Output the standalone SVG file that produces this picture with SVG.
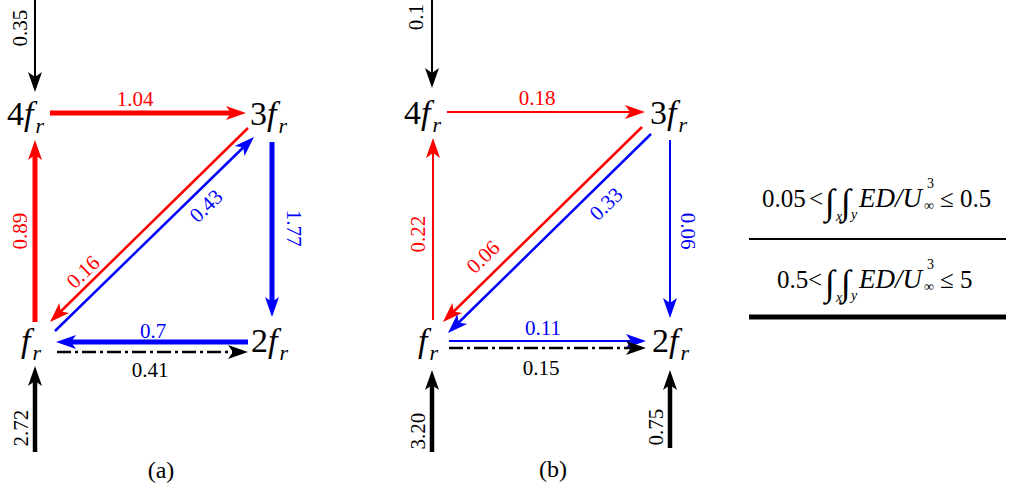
<svg xmlns="http://www.w3.org/2000/svg" width="1017" height="490" viewBox="0 0 1017 490" font-family="'Liberation Serif','Times New Roman',serif">
<style>
text{font-family:"Liberation Serif","Times New Roman",serif}
.n{font-family:"Liberation Serif","Times New Roman",serif;font-size:34px;fill:#000}
.i{font-style:italic}
.s{font-size:22px;font-style:italic}
.e{font-family:"Liberation Serif","Times New Roman",serif;font-size:21px;text-anchor:middle}
.cr{fill:#f00}.cb{fill:#00f}.ck{fill:#000}
.sr{stroke:#f00;fill:none}.sb{stroke:#00f;fill:none}.sk{stroke:#000;fill:none}
.w5{stroke-width:5}.w4{stroke-width:4.5}.w2{stroke-width:2}.w25{stroke-width:2.5}
.dd{stroke-dasharray:14 4 3 4}
.leg{font-family:"Liberation Serif","Times New Roman",serif;font-size:25px}
.int{font-size:36px}
.sub{font-size:14px;font-style:italic}
.sm{font-size:14px}
</style>
<defs>
<marker id="mr" markerUnits="userSpaceOnUse" markerWidth="20" markerHeight="14" refX="10" refY="7" orient="auto" overflow="visible"><path d="M0,0 L20,7 L0,14 L5,7 Z" fill="#f00"/></marker>
<marker id="mb" markerUnits="userSpaceOnUse" markerWidth="20" markerHeight="14" refX="10" refY="7" orient="auto" overflow="visible"><path d="M0,0 L20,7 L0,14 L5,7 Z" fill="#00f"/></marker>
<marker id="mk" markerUnits="userSpaceOnUse" markerWidth="20" markerHeight="14" refX="10" refY="7" orient="auto" overflow="visible"><path d="M0,0 L20,7 L0,14 L5,7 Z" fill="#000"/></marker>
</defs>
<rect width="1017" height="490" fill="#fff"/>

<g id="connectors">
<line class="sk w2" x1="35" y1="0" x2="35" y2="82" marker-end="url(#mk)"/>
<line class="sr w5" x1="50" y1="113" x2="236" y2="113" marker-end="url(#mr)"/>
<line class="sr w5" x1="35" y1="322" x2="35" y2="150" marker-end="url(#mr)"/>
<line class="sr w25" x1="248" y1="128" x2="57.1" y2="315" marker-end="url(#mr)"/>
<line class="sb w25" x1="55" y1="331" x2="246.8" y2="144" marker-end="url(#mb)"/>
<line class="sb w5" x1="272" y1="142" x2="272" y2="307" marker-end="url(#mb)"/>
<line class="sb w5" x1="248" y1="342" x2="66" y2="342" marker-end="url(#mb)"/>
<line class="sk w25 dd" x1="57" y1="352" x2="238" y2="352" marker-end="url(#mk)"/>
<line class="sk w4" x1="35" y1="452" x2="35" y2="376" marker-end="url(#mk)"/>
<line class="sk w2" x1="432" y1="0" x2="432" y2="78" marker-end="url(#mk)"/>
<line class="sr w2" x1="447" y1="112" x2="635" y2="112" marker-end="url(#mr)"/>
<line class="sr w2" x1="433" y1="320" x2="433" y2="148" marker-end="url(#mr)"/>
<line class="sr w25" x1="642" y1="127" x2="450.1" y2="315" marker-end="url(#mr)"/>
<line class="sb w25" x1="651" y1="134" x2="455.1" y2="326" marker-end="url(#mb)"/>
<line class="sb w2" x1="670" y1="140" x2="670" y2="308" marker-end="url(#mb)"/>
<line class="sb w2" x1="449" y1="341" x2="636" y2="341" marker-end="url(#mb)"/>
<line class="sk w25 dd" x1="449" y1="348" x2="636" y2="348" marker-end="url(#mk)"/>
<line class="sk w4" x1="432" y1="452" x2="432" y2="380" marker-end="url(#mk)"/>
<line class="sk w4" x1="670" y1="448" x2="670" y2="380" marker-end="url(#mk)"/>
</g>

<g id="edge-labels">
<text class="e ck" transform="translate(27,28) rotate(-90)">0.35</text>
<text class="e cr" x="135" y="106">1.04</text>
<text class="e cr" transform="translate(27,231) rotate(-90)">0.89</text>
<text class="e cr" transform="translate(83,272) rotate(-44)" y="7">0.16</text>
<text class="e cb" transform="translate(206,206) rotate(-44)" y="7">0.43</text>
<text class="e cb" transform="translate(287,228) rotate(90)">1.77</text>
<text class="e cb" x="153" y="338">0.7</text>
<text class="e ck" x="150" y="377">0.41</text>
<text class="e ck" transform="translate(28,428) rotate(-90)">2.72</text>
<text class="e ck" transform="translate(423,17) rotate(-90)">0.1</text>
<text class="e cr" x="537" y="105">0.18</text>
<text class="e cr" transform="translate(425,234) rotate(-90)">0.22</text>
<text class="e cr" transform="translate(483,257) rotate(-44)" y="7">0.06</text>
<text class="e cb" transform="translate(606,204) rotate(-44)" y="7">0.33</text>
<text class="e cb" transform="translate(681,231) rotate(90)">0.06</text>
<text class="e cb" x="543" y="335">0.11</text>
<text class="e ck" x="541" y="375">0.15</text>
<text class="e ck" transform="translate(425,431) rotate(-90)">3.20</text>
<text class="e ck" transform="translate(663,427) rotate(-90)">0.75</text>
</g>

<g id="a-4fr"><text class="n" x="7" y="125">4<tspan class="i">f</tspan><tspan class="s" dx="2" dy="8">r</tspan></text></g>
<g id="a-3fr"><text class="n" x="250" y="125">3<tspan class="i">f</tspan><tspan class="s" dx="2" dy="8">r</tspan></text></g>
<g id="a-fr"><text class="n" x="21" y="352"><tspan class="i">f</tspan><tspan class="s" dx="2" dy="8">r</tspan></text></g>
<g id="a-2fr"><text class="n" x="251" y="352">2<tspan class="i">f</tspan><tspan class="s" dx="2" dy="8">r</tspan></text></g>
<g id="b-4fr"><text class="n" x="404" y="124">4<tspan class="i">f</tspan><tspan class="s" dx="2" dy="8">r</tspan></text></g>
<g id="b-3fr"><text class="n" x="650" y="124">3<tspan class="i">f</tspan><tspan class="s" dx="2" dy="8">r</tspan></text></g>
<g id="b-fr"><text class="n" x="418" y="352"><tspan class="i">f</tspan><tspan class="s" dx="2" dy="8">r</tspan></text></g>
<g id="b-2fr"><text class="n" x="652" y="352">2<tspan class="i">f</tspan><tspan class="s" dx="2" dy="8">r</tspan></text></g>

<g id="captions">
<text x="161" y="478" font-size="24" text-anchor="middle">(a)</text>
<text x="553" y="477" font-size="24" text-anchor="middle">(b)</text>
</g>

<g id="legend">
<text class="leg" y="207"><tspan x="762">0.05</tspan><tspan x="809">&lt;</tspan><tspan class="int" x="825" y="214">∫</tspan><tspan class="sub" x="836" y="221">x</tspan><tspan class="int" x="841" y="214">∫</tspan><tspan class="sub" x="851" y="219">y</tspan><tspan class="i" x="859" y="207" font-size="27">ED/U</tspan><tspan class="sm" x="924" y="210">∞</tspan><tspan class="sm" x="927" y="188">3</tspan><tspan x="940" y="207">≤ 0.5</tspan></text>
<line class="sk w2" x1="749" y1="239" x2="1006" y2="239"/>
<text class="leg" y="288"><tspan x="777">0.5</tspan><tspan x="808">&lt;</tspan><tspan class="int" x="825" y="295">∫</tspan><tspan class="sub" x="836" y="302">x</tspan><tspan class="int" x="841" y="295">∫</tspan><tspan class="sub" x="851" y="300">y</tspan><tspan class="i" x="859" y="288" font-size="27">ED/U</tspan><tspan class="sm" x="924" y="291">∞</tspan><tspan class="sm" x="927" y="269">3</tspan><tspan x="940" y="288">≤ 5</tspan></text>
<line class="sk" stroke-width="5" x1="749" y1="317" x2="1006" y2="317"/>
</g>
</svg>
